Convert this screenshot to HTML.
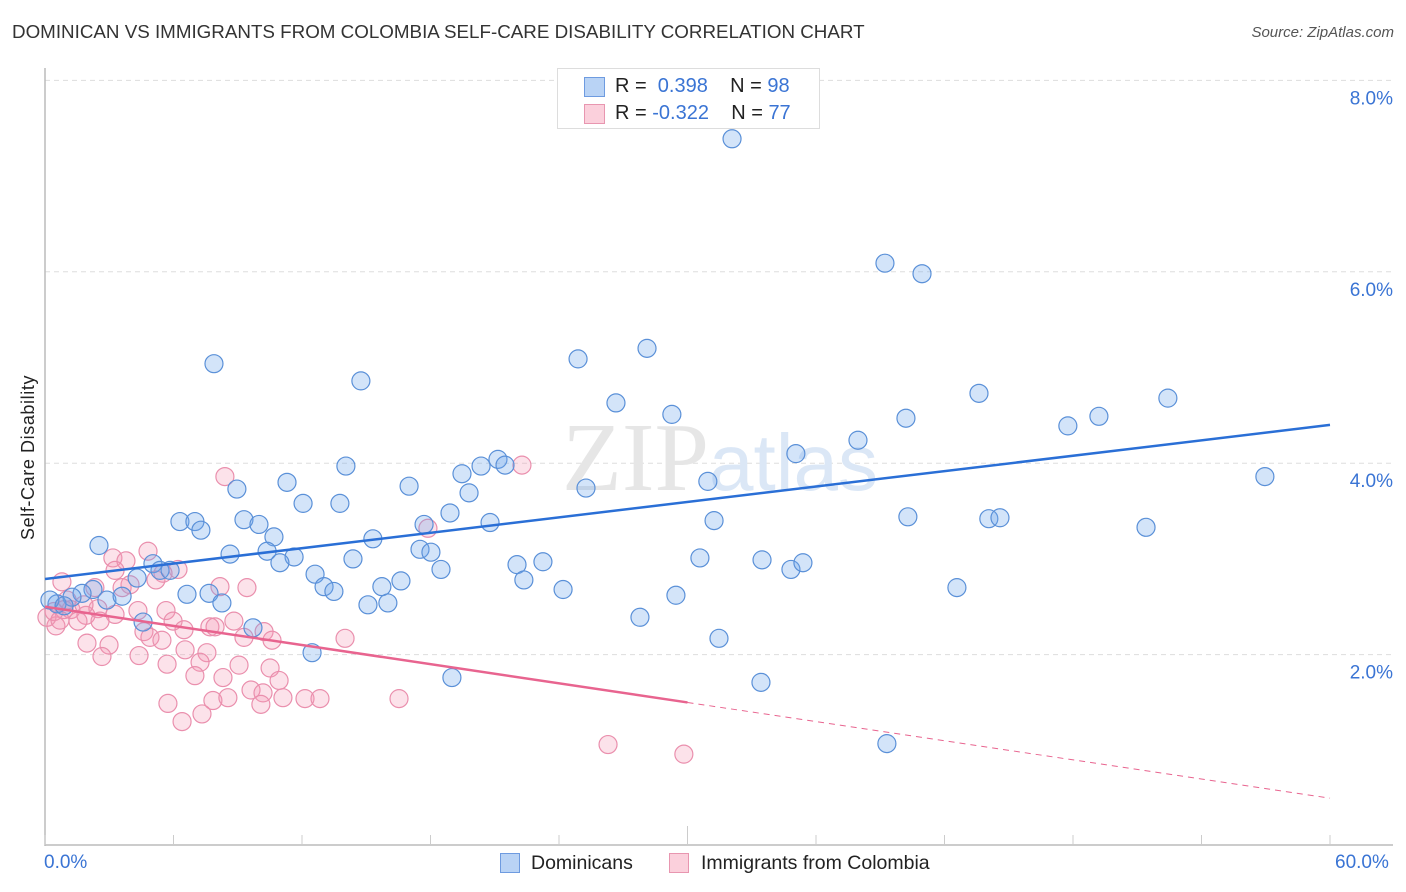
<!DOCTYPE html>
<html><head><meta charset="utf-8"><style>
body{margin:0;background:#fff;font-family:"Liberation Sans",sans-serif;}
#wrap{position:relative;width:1406px;height:892px;overflow:hidden;}
.t{position:absolute;white-space:nowrap;}
</style></head><body>
<div id="wrap">
<div class="t" style="left:12px;top:21px;font-size:18.8px;color:#333;">DOMINICAN VS IMMIGRANTS FROM COLOMBIA SELF-CARE DISABILITY CORRELATION CHART</div>
<div class="t" style="right:12px;top:24px;font-size:15px;color:#555;font-style:italic;">Source: ZipAtlas.com</div>
<svg id="plot" width="1406" height="892" style="position:absolute;left:0;top:0;"></svg>
<div class="t" style="left:557px;top:68px;width:263px;height:61px;border:1px solid #ddd;background:#fff;box-sizing:border-box;">
 <div style="position:absolute;left:26px;top:8px;width:19px;height:18px;background:#b9d3f5;border:1px solid #6e9be0;"></div>
 <div class="t" style="left:57px;top:6px;font-size:20px;color:#222;">R = &nbsp;<span style="color:#3a74d4">0.398</span>&nbsp;&nbsp;&nbsp; N = <span style="color:#3a74d4">98</span></div>
 <div style="position:absolute;left:26px;top:35px;width:19px;height:18px;background:#fbd0dc;border:1px solid #e896b0;"></div>
 <div class="t" style="left:57px;top:33px;font-size:20px;color:#222;">R = <span style="color:#3a74d4">-0.322</span>&nbsp;&nbsp;&nbsp; N = <span style="color:#3a74d4">77</span></div>
</div>
<div class="t" style="left:500px;top:853px;width:20px;height:20px;background:#b9d3f5;border:1px solid #6e9be0;box-sizing:border-box;"></div>
<div class="t" style="left:531px;top:852px;font-size:19.5px;color:#222;">Dominicans</div>
<div class="t" style="left:669px;top:853px;width:20px;height:20px;background:#fbd0dc;border:1px solid #e896b0;box-sizing:border-box;"></div>
<div class="t" style="left:701px;top:852px;font-size:19.5px;color:#222;">Immigrants from Colombia</div>
<div class="t" style="left:44px;top:852px;font-size:19px;color:#3a74d4;">0.0%</div>
<div class="t" style="left:1335px;top:852px;font-size:19px;color:#3a74d4;">60.0%</div>
<div class="t" style="left:18px;top:540px;font-size:18px;letter-spacing:0.6px;color:#222;transform:rotate(-90deg);transform-origin:0 0;">Self-Care Disability</div>
</div>
<script>
const yTicks=[2,4,6,8];
const yTickLabels=["2.0%","4.0%","6.0%","8.0%"];
const xTicks=[0,6,12,18,24,30,36,42,48,54,60];
const blueX=[32.08,39.22,40.95,7.89,24.89,28.11,14.75,26.66,29.27,40.20,43.61,47.76,49.21,52.43,37.96,35.06,56.96,14.05,19.47,20.36,21.15,21.48,19.80,17.00,11.30,8.96,12.05,13.77,18.91,17.70,20.78,25.26,30.95,31.24,40.29,44.07,44.59,51.41,6.30,7.00,7.28,9.29,9.99,10.69,15.31,10.37,11.63,8.64,10.97,14.38,17.51,18.02,18.49,22.04,23.25,22.36,30.58,33.48,34.83,35.39,2.52,5.04,5.37,5.84,4.30,12.61,13.03,13.49,15.73,16.62,24.19,29.46,42.58,6.63,7.66,8.26,15.08,16.01,27.78,31.47,2.24,1.73,1.26,2.89,3.60,4.58,9.71,12.47,19.00,33.43,39.31,0.56,0.23,0.89];
const blueY=[7.39,6.09,5.98,5.04,5.09,5.20,4.86,4.63,4.51,4.47,4.73,4.39,4.49,4.68,4.24,4.10,3.86,3.97,3.89,3.97,4.04,3.98,3.69,3.76,3.80,3.73,3.58,3.58,3.48,3.36,3.38,3.74,3.81,3.40,3.44,3.42,3.43,3.33,3.39,3.39,3.30,3.41,3.36,3.23,3.21,3.08,3.02,3.05,2.96,3.00,3.10,3.07,2.89,2.94,2.97,2.78,3.01,2.99,2.89,2.96,3.14,2.95,2.88,2.88,2.80,2.84,2.71,2.66,2.71,2.77,2.68,2.62,2.70,2.63,2.64,2.54,2.52,2.54,2.39,2.17,2.68,2.64,2.60,2.57,2.61,2.34,2.28,2.02,1.76,1.71,1.07,2.53,2.57,2.51];
const pinkX=[8.40,22.27,17.88,3.17,4.81,3.78,6.21,5.51,3.27,3.97,5.18,0.79,2.33,3.60,9.43,8.17,5.65,4.34,5.98,8.82,10.23,10.60,3.27,2.47,1.91,1.21,1.54,0.51,0.89,2.57,0.09,4.62,4.90,5.46,6.49,7.70,7.94,9.29,14.01,6.54,7.56,1.96,2.99,4.39,2.66,5.70,7.24,9.06,10.51,7.00,8.31,10.93,9.62,10.18,5.74,7.84,8.54,10.08,11.11,12.14,12.84,16.53,6.40,7.33,26.29,29.83,0.42,0.70,1.03,1.82];
const pinkY=[3.86,3.98,3.32,3.01,3.08,2.98,2.89,2.85,2.88,2.73,2.78,2.76,2.70,2.70,2.70,2.71,2.46,2.46,2.35,2.35,2.24,2.15,2.42,2.48,2.41,2.47,2.35,2.30,2.47,2.35,2.39,2.24,2.18,2.15,2.26,2.29,2.29,2.18,2.17,2.05,2.02,2.12,2.10,1.99,1.98,1.90,1.92,1.89,1.86,1.78,1.76,1.73,1.63,1.60,1.49,1.52,1.55,1.48,1.55,1.54,1.54,1.54,1.30,1.38,1.06,0.96,2.45,2.36,2.57,2.52];
const blueTrend=[2.79,4.40];
const pinkTrend=[2.50,0.50];
const pinkSolidEnd=30;

const X0=45,X1=1330,Y0=846,PPY=95.7;
function sx(v){return X0+(v/60)*(X1-X0);}
function sy(v){return Y0-v*PPY;}
const NS="http://www.w3.org/2000/svg";
const svg=document.getElementById('plot');
function mk(tag,attrs){const e=document.createElementNS(NS,tag);for(const k in attrs)e.setAttribute(k,attrs[k]);svg.appendChild(e);return e;}

yTicks.forEach((v,i)=>{
 const g=mk('line',{x1:45,x2:1393,y1:sy(v),y2:sy(v),stroke:'#ddd','stroke-dasharray':'5,4','stroke-width':1});
 
 
 const t=mk('text',{x:1393,y:sy(v)+24,'text-anchor':'end','font-size':19,fill:'#3a74d4','font-family':'Liberation Sans, sans-serif'});
 t.textContent=yTickLabels[i];
 
 
});
const ax=mk('line',{x1:45,x2:45,y1:68,y2:846,stroke:'#bbb','stroke-width':1.5});


const bx=mk('line',{x1:45,x2:1393,y1:845,y2:845,stroke:'#bbb','stroke-width':1.5});


xTicks.forEach(v=>{
 const l=mk('line',{x1:sx(v),x2:sx(v),y1:(v===30?826:835),y2:845,stroke:'#ccc','stroke-width':1});
 
 
});
const wm=mk('text',{x:720,y:490,'text-anchor':'middle','font-size':98,fill:'#e6e6e6','font-family':'Liberation Serif, serif'});
wm.innerHTML='ZIP<tspan fill="#dbe7f6" font-family="Liberation Sans, sans-serif" font-size="80">atlas</tspan>';



pinkX.forEach((x,i)=>{
 const c=mk('circle',{cx:sx(x),cy:sy(pinkY[i]),r:9,fill:'rgba(244,150,180,0.28)',stroke:'#ea8fad','stroke-width':1.2});
 
 
});
blueX.forEach((x,i)=>{
 const c=mk('circle',{cx:sx(x),cy:sy(blueY[i]),r:9,fill:'rgba(110,165,235,0.3)',stroke:'#5a90d8','stroke-width':1.2});
 
 
});
const bl=mk('line',{x1:sx(0),y1:sy(blueTrend[0]),x2:sx(60),y2:sy(blueTrend[1]),stroke:'#2a6fd6','stroke-width':2.5});


const pm=pinkTrend[0]+(pinkTrend[1]-pinkTrend[0])*pinkSolidEnd/60;
const pl=mk('line',{x1:sx(0),y1:sy(pinkTrend[0]),x2:sx(pinkSolidEnd),y2:sy(pm),stroke:'#e8648f','stroke-width':2.5});


const pd=mk('line',{x1:sx(pinkSolidEnd),y1:sy(pm),x2:sx(60),y2:sy(pinkTrend[1]),stroke:'#e8648f','stroke-width':1,'stroke-dasharray':'6,5'});


</script>
</body></html>
